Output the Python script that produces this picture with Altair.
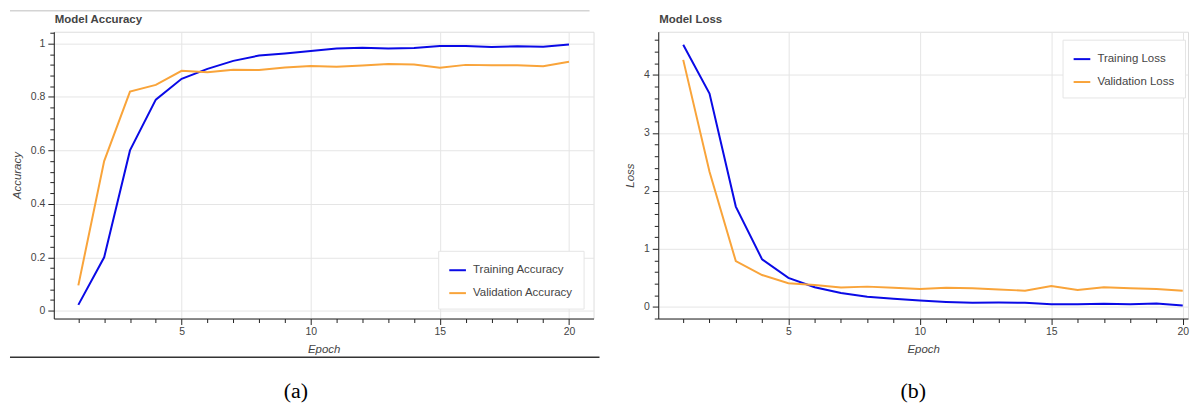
import altair as alt
import pandas as pd

epochs = list(range(1, 21))
train_acc = [0.022, 0.20, 0.60, 0.79, 0.868, 0.905, 0.935, 0.955, 0.963, 0.972,
             0.981, 0.984, 0.981, 0.983, 0.991, 0.991, 0.987, 0.990, 0.988, 0.996]
val_acc = [0.095, 0.56, 0.82, 0.845, 0.898, 0.892, 0.902, 0.901, 0.910, 0.916,
           0.913, 0.918, 0.923, 0.921, 0.909, 0.920, 0.919, 0.919, 0.915, 0.932]
train_loss = [4.52, 3.68, 1.73, 0.82, 0.50, 0.34, 0.24, 0.175, 0.14, 0.11,
              0.085, 0.07, 0.075, 0.07, 0.045, 0.045, 0.055, 0.045, 0.06, 0.025]
val_loss = [4.26, 2.33, 0.79, 0.55, 0.41, 0.38, 0.335, 0.35, 0.33, 0.31,
            0.33, 0.32, 0.30, 0.28, 0.36, 0.29, 0.34, 0.32, 0.31, 0.28]

acc_names = ["Training Accuracy", "Validation Accuracy"]
loss_names = ["Training Loss", "Validation Loss"]
colors = ["#0a0ae6", "#f9a43a"]

acc_df = pd.DataFrame({
    "Epoch": epochs * 2,
    "Value": train_acc + val_acc,
    "Series": [acc_names[0]] * 20 + [acc_names[1]] * 20,
})
loss_df = pd.DataFrame({
    "Epoch": epochs * 2,
    "Value": train_loss + val_loss,
    "Series": [loss_names[0]] * 20 + [loss_names[1]] * 20,
})

FONT = "Liberation Sans"
one = pd.DataFrame({"k": [0]})


def x_axis():
    major = "datum.value % 5 == 0"
    return alt.Axis(
        values=epochs,
        labelExpr=f"{major} ? datum.label : ''",
        tickSize={"condition": {"test": major, "value": 6}, "value": 4},
        gridOpacity={"condition": {"test": major, "value": 1}, "value": 0},
        title="Epoch", titleFontStyle="italic", titleFontWeight="normal",
        titleFontSize=11.5, titleColor="#444", titlePadding=7,
        labelFontSize=10.5, labelColor="#444", labelPadding=2,
        labelFlush=False, labelOverlap=False,
        domainColor="#222", tickColor="#222", gridColor="#e5e5e5",
    )


def y_axis(values, mult, title):
    major = f"abs(datum.value*{mult} - round(datum.value*{mult})) < 1e-6"
    return alt.Axis(
        values=values,
        labelExpr=f"{major} ? format(datum.value, '~g') : ''",
        tickSize={"condition": {"test": major, "value": 6}, "value": 4},
        gridOpacity={"condition": {"test": major, "value": 1}, "value": 0},
        title=title, titleFontStyle="italic", titleFontWeight="normal",
        titleFontSize=11.5, titleColor="#444", titlePadding=8,
        labelFontSize=10.5, labelColor="#444", labelPadding=3,
        labelFlush=False, labelOverlap=False,
        domainColor="#222", tickColor="#222", gridColor="#e5e5e5",
    )


acc_vals = [round(i * 0.04, 2) for i in range(0, 27)]
loss_vals = [round(-0.2 + i * 0.2, 1) for i in range(0, 25)]


def panel(df, names, ydom, yvals, mult, ytitle, xdom, width, title, legend, cap, capx, decor):
    lines = alt.Chart(df).mark_line(strokeWidth=2).encode(
        x=alt.X("Epoch:Q", scale=alt.Scale(domain=xdom, nice=False, zero=False), axis=x_axis()),
        y=alt.Y("Value:Q", scale=alt.Scale(domain=ydom, nice=False, zero=False),
                axis=y_axis(yvals, mult, ytitle)),
        color=alt.Color("Series:N", scale=alt.Scale(domain=names, range=colors), legend=legend),
    )
    caption = alt.Chart(one).mark_text(
        text=cap, font="Liberation Serif", fontSize=22, color="black"
    ).encode(x=alt.value(capx), y=alt.value(361))
    ttl = alt.Chart(one).mark_text(
        text=title, font=FONT, fontSize=11.5, fontWeight="bold", color="#444",
        align="left", baseline="middle"
    ).encode(x=alt.value(1), y=alt.value(-12))
    layers = [lines, caption, ttl] + decor
    return alt.layer(*layers).properties(width=width, height=288)


def legend(**kw):
    return alt.Legend(
        title=None, fillColor="white",
        strokeColor="#e5e5e5", padding=10, labelFontSize=11.5, labelColor="#444",
        labelFont=FONT, symbolType="stroke", symbolStrokeWidth=2, symbolSize=280,
        rowPadding=8, labelOffset=6, **kw
    )


left_decor = [
    alt.Chart(one).mark_rule(color="#d4d4d4", strokeWidth=1.5).encode(
        x=alt.value(-44), x2=alt.value(538), y=alt.value(-21)),
    alt.Chart(one).mark_rule(color="#333333", strokeWidth=1.5).encode(
        x=alt.value(-44), x2=alt.value(548), y=alt.value(327)),
]
right_decor = [
    alt.Chart(one).mark_rule(color="white", opacity=0).encode(
        x=alt.value(-40), x2=alt.value(0), y=alt.value(-21)),
]

left = panel(acc_df, acc_names, [-0.029, 1.044], acc_vals, 5, "Accuracy",
             [0.05, 20.95], 542, "Model Accuracy",
             legend(orient="bottom-right", offset=10),
             "(a)", 243, left_decor)
right = panel(loss_df, loss_names, [-0.2, 4.745], loss_vals, 1, "Loss",
              [0.05, 20.2], 532, "Model Loss",
              legend(orient="none", legendX=406, legendY=8),
              "(b)", 256, right_decor)

chart = alt.hconcat(left, right, spacing=16).resolve_scale(
    color="independent", x="independent", y="independent"
).properties(padding=0).configure_view(stroke="#e5e5e5").configure(
    font=FONT, background="white"
)

chart.save("out.html", embed_options={"renderer": "svg", "actions": False})
